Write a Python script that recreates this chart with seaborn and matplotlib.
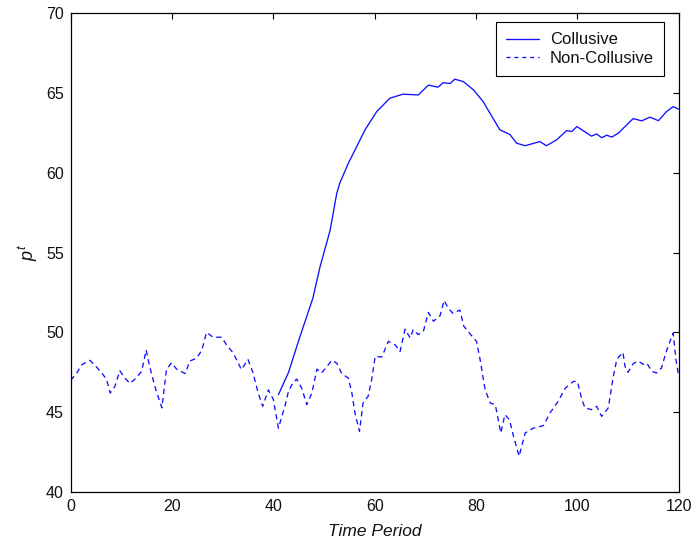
import matplotlib
matplotlib.use("Agg")
import matplotlib.pyplot as plt
import seaborn as sns
import pandas as pd

# Collusive series (time, price)
coll_t = [41, 43, 45, 47.8, 49.2, 51.2, 52.5, 53.1, 54.8, 58.1, 60.4, 63.0, 65.6, 68.6,
          70.6, 72.5, 73.5, 74.9, 75.8, 77.5, 79.5, 81.4, 82.75, 84.7, 86.7, 88.0, 89.7,
          92.6, 93.9, 95.9, 97.9, 98.9, 99.9, 102.8, 103.8, 104.8, 105.8, 106.8, 108.1,
          111.0, 112.7, 114.3, 116.0, 117.6, 118.9, 120]
coll_p = [46.1, 47.5, 49.5, 52.15, 54.1, 56.4, 58.7, 59.35, 60.6, 62.7, 63.84, 64.68, 64.93, 64.88,
          65.5, 65.37, 65.65, 65.6, 65.87, 65.72, 65.2, 64.47, 63.74, 62.7, 62.4, 61.86, 61.7,
          61.96, 61.7, 62.07, 62.65, 62.59, 62.9, 62.3, 62.44, 62.2, 62.36, 62.24, 62.49,
          63.4, 63.26, 63.49, 63.27, 63.84, 64.15, 63.99]

# Non-collusive series (time, price)
non_t = [0, 1.2, 2.2, 3.8, 5.1, 6.4, 7.1, 7.8, 8.7, 9.7, 10.7, 11.7, 12.7, 14.0, 14.9, 15.5,
         16.6, 18.0, 18.9, 19.9, 20.9, 22.6, 23.5, 24.9, 25.9, 26.8, 28.1, 29.8, 30.8, 32.1,
         33.7, 35.0, 36.0, 37.0, 37.9, 39.0, 40.0, 41.0, 42.3, 42.9, 43.6, 44.6, 45.6, 46.6,
         47.6, 48.6, 49.5, 50.5, 51.5, 52.5, 53.5, 54.8, 55.5, 56.1, 57.0, 57.7, 58.7, 59.4,
         60.1, 61.4, 62.7, 64.0, 65.0, 66.0, 67.0, 67.6, 68.6, 69.6, 70.6, 71.6, 72.9, 73.7,
         74.5, 75.4, 76.8, 77.6, 78.8, 80.1, 80.8, 81.8, 82.8, 83.8, 84.9, 85.7, 86.6, 87.4,
         88.5, 89.7, 91.3, 93.3, 94.6, 96.2, 97.6, 99.2, 100.0, 100.9, 101.5, 102.8, 103.8,
         104.8, 106.1, 107.1, 107.8, 109.0, 109.4, 110.0, 111.0, 112.0, 113.0, 113.7, 114.7,
         115.6, 116.6, 117.3, 117.9, 118.9, 119.5, 120]
non_p = [47.0, 47.46, 47.98, 48.25, 47.83, 47.35, 47.04, 46.2, 46.6, 47.6, 47.14, 46.8, 47.08,
         47.56, 48.9, 47.98, 46.62, 45.27, 47.67, 48.1, 47.7, 47.42, 48.2, 48.4, 48.9, 50.0,
         49.7, 49.7, 49.2, 48.7, 47.67, 48.3, 47.46, 46.2, 45.37, 46.4, 45.8, 44.0, 45.4, 46.2,
         46.7, 47.08, 46.5, 45.47, 46.2, 47.7, 47.46, 47.83, 48.25, 48.08, 47.42, 47.14, 46.2,
         44.95, 43.8, 45.58, 46.0, 47.04, 48.5, 48.46, 49.44, 49.23, 48.8, 50.2, 49.65, 50.17,
         49.86, 50.06, 51.25, 50.7, 51.05, 52.0, 51.53, 51.2, 51.4, 50.38, 49.92, 49.44, 48.3,
         46.4, 45.58, 45.47, 43.7, 44.85, 44.53, 43.49, 42.24, 43.7, 44.0, 44.16, 44.95, 45.68,
         46.5, 46.93, 46.93, 45.79, 45.27, 45.16, 45.37, 44.74, 45.27, 47.25, 48.33, 48.75,
         47.87, 47.5, 48.04, 48.2, 48.0, 48.08, 47.56, 47.46, 47.77, 48.54, 49.12, 49.96,
         48.2, 47.25]

x_ticks = [0, 20, 40, 60, 80, 100, 120]
y_ticks = [40, 45, 50, 55, 60, 65, 70]
labels = ["Collusive", "Non-Collusive"]

sns.set_style("white")
plt.rcParams["font.family"] = ["Liberation Sans", "DejaVu Sans"]
plt.rcParams["mathtext.fontset"] = "custom"
plt.rcParams["mathtext.it"] = "Liberation Sans:italic"
plt.rcParams["mathtext.rm"] = "Liberation Sans"

fig = plt.figure(figsize=(6.91, 5.40), dpi=100)
ax = fig.add_axes([0.1023, 0.0889, 0.8799, 0.8865])

df_c = pd.DataFrame({"t": coll_t, "p": coll_p})
df_n = pd.DataFrame({"t": non_t, "p": non_p})

sns.lineplot(data=df_c, x="t", y="p", ax=ax, color="#1010ff", linewidth=0.95,
             label=labels[0], estimator=None, sort=False)
sns.lineplot(data=df_n, x="t", y="p", ax=ax, color="#1010ff", linewidth=0.95,
             label=labels[1], estimator=None, sort=False)
ax.lines[1].set_dashes([4, 3])

ax.set_xlim(0, 120)
ax.set_ylim(40, 70)
ax.set_xticks(x_ticks)
ax.set_yticks(y_ticks)
ax.set_xticklabels([str(v) for v in x_ticks])
ax.set_yticklabels([str(v) for v in y_ticks])
ax.tick_params(direction="in", length=4, width=0.8, color="black",
               top=True, right=True, labelsize=11.5, labelcolor="#111111")
ax.tick_params(axis="x", pad=5)
ax.tick_params(axis="y", pad=5)
for s in ax.spines.values():
    s.set_visible(True)
    s.set_color("black")
    s.set_linewidth(0.9)

ax.set_xlabel("Time Period", fontsize=12.5, style="italic", labelpad=7, color="#111111")
ax.set_ylabel(r"$p^t$", fontsize=13, labelpad=4, color="#111111")

leg = ax.legend(loc="upper right", bbox_to_anchor=(0.9758, 0.981), borderaxespad=0,
                fontsize=12, frameon=True, fancybox=False, framealpha=1,
                edgecolor="black", handlelength=2.0, borderpad=0.6, labelspacing=0.2,
                handletextpad=0.65)
leg.get_frame().set_linewidth(0.8)
for t in leg.get_texts():
    t.set_color("#111111")
leg.get_lines()[1].set_dashes([3, 3])

fig.savefig("out.png", dpi=100)
